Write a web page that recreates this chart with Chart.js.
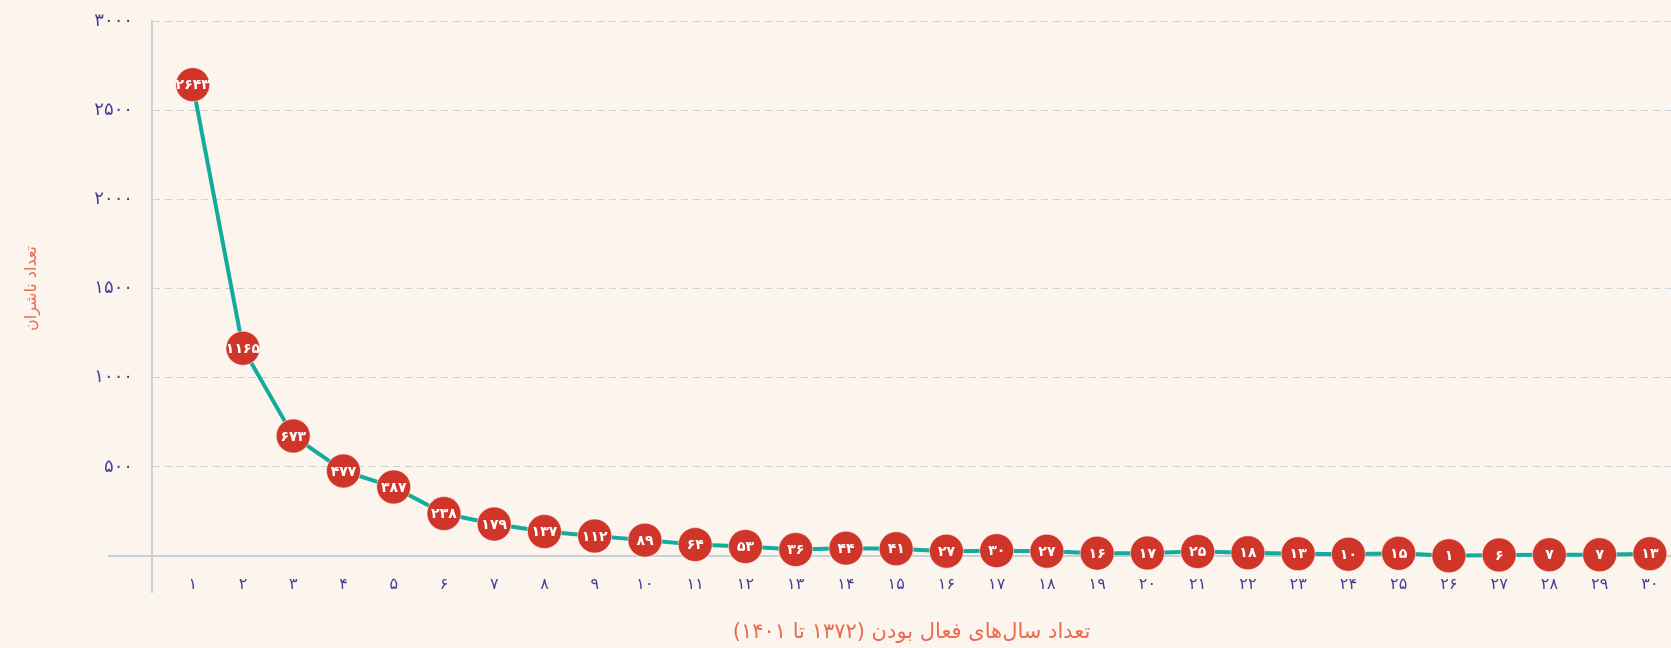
<!DOCTYPE html>
<html lang="fa">
<head>
<meta charset="utf-8">
<title>تعداد ناشران بر حسب سال‌های فعالیت</title>
<script src="https://cdn.jsdelivr.net/npm/chart.js@4"></script>
<style>
  html, body { margin: 0; padding: 0; background: #fcf5ee; }
  #wrap { width: 1671px; height: 648px; position: relative; }
</style>
</head>
<body>
<div id="wrap"><canvas id="chart" dir="rtl"></canvas></div>
<script>
// Number of years active (1372 to 1401) and the number of publishers for each
const years = [1, 2, 3, 4, 5, 6, 7, 8, 9, 10, 11, 12, 13, 14, 15, 16, 17, 18, 19, 20, 21, 22, 23, 24, 25, 26, 27, 28, 29, 30];
const publishers = [2643, 1165, 673, 477, 387, 238, 179, 137, 112, 89, 64, 53, 36, 44, 41, 27, 30, 27, 16, 17, 25, 18, 13, 10, 15, 1, 6, 7, 7, 13];
const xTickLabels = ['۱', '۲', '۳', '۴', '۵', '۶', '۷', '۸', '۹', '۱۰', '۱۱', '۱۲', '۱۳', '۱۴', '۱۵', '۱۶', '۱۷', '۱۸', '۱۹', '۲۰', '۲۱', '۲۲', '۲۳', '۲۴', '۲۵', '۲۶', '۲۷', '۲۸', '۲۹', '۳۰'];
const yTickValues = [0, 500, 1000, 1500, 2000, 2500, 3000];
const yTickLabels = ['', '۵۰۰', '۱۰۰۰', '۱۵۰۰', '۲۰۰۰', '۲۵۰۰', '۳۰۰۰'];

const xTitle = 'تعداد سال‌های فعال بودن (۱۳۷۲ تا ۱۴۰۱)';
const yTitle = 'تعداد ناشران';

const FONT = "'DejaVu Sans', sans-serif";
const AXIS_COLOR = '#c7d1d8';
const TICK_COLOR = '#4a3c96';
const TITLE_COLOR = '#ec6a4f';

const faDigits = ['۰', '۱', '۲', '۳', '۴', '۵', '۶', '۷', '۸', '۹'];
function toPersian(n) {
  return String(n).replace(/[0-9]/g, d => faDigits[+d]);
}

// Writes each value in white inside its marker
const valueLabels = {
  id: 'valueLabels',
  afterDatasetsDraw(chart) {
    const { ctx } = chart;
    const meta = chart.getDatasetMeta(0);
    const values = chart.data.datasets[0].data;
    ctx.save();
    ctx.fillStyle = '#ffffff';
    ctx.font = 'bold 14px ' + FONT;
    ctx.textAlign = 'center';
    ctx.textBaseline = 'middle';
    meta.data.forEach((el, i) => {
      ctx.fillText(toPersian(values[i].y), el.x, el.y + 1);
    });
    ctx.restore();
  }
};

// Short extensions of the axis lines past the corner of the plot
const axisCorner = {
  id: 'axisCorner',
  beforeDatasetsDraw(chart) {
    const { ctx, chartArea } = chart;
    ctx.save();
    ctx.strokeStyle = AXIS_COLOR;
    ctx.lineWidth = 2;
    ctx.beginPath();
    ctx.moveTo(chartArea.left - 44, chartArea.bottom);
    ctx.lineTo(chartArea.left, chartArea.bottom);
    ctx.moveTo(chartArea.left, chartArea.bottom);
    ctx.lineTo(chartArea.left, chartArea.bottom + 37);
    ctx.stroke();
    ctx.restore();
  }
};

Chart.defaults.font.family = FONT;

new Chart(document.getElementById('chart'), {
  type: 'line',
  data: {
    datasets: [{
      data: years.map((y, i) => ({ x: y, y: publishers[i] })),
      borderColor: '#13ab9b',
      borderWidth: 4,
      tension: 0,
      pointRadius: 17,
      pointHoverRadius: 17,
      pointBackgroundColor: '#cf3529',
      pointBorderColor: 'rgba(255,255,255,0.55)',
      pointBorderWidth: 1,
      clip: false
    }]
  },
  options: {
    responsive: true,
    maintainAspectRatio: false,
    devicePixelRatio: 1,
    animation: false,
    layout: { autoPadding: false, padding: { top: 21, right: 0, bottom: 0, left: 0 } },
    plugins: {
      legend: { display: false },
      tooltip: { enabled: false }
    },
    scales: {
      x: {
        type: 'linear',
        min: 0.19,
        max: 30.42,
        afterBuildTicks(scale) {
          scale.ticks = years.map(v => ({ value: v }));
        },
        afterFit(scale) {
          scale.height = 92;
          scale.paddingLeft = 0;
          scale.paddingRight = 0;
        },
        grid: { display: false, drawTicks: false },
        border: { display: true, color: AXIS_COLOR, width: 2 },
        ticks: {
          autoSkip: false,
          maxRotation: 0,
          padding: 19,
          color: TICK_COLOR,
          font: { size: 16 },
          callback: (value) => xTickLabels[years.indexOf(value)]
        },
        title: {
          display: true,
          text: xTitle,
          color: TITLE_COLOR,
          font: { size: 21 },
          padding: { top: 0, bottom: 3 }
        }
      },
      y: {
        min: 0,
        max: 3000,
        afterBuildTicks(scale) {
          scale.ticks = yTickValues.map(v => ({ value: v }));
        },
        afterFit(scale) {
          scale.width = 152;
          scale.paddingTop = 0;
          scale.paddingBottom = 0;
        },
        grid: {
          drawTicks: false,
          lineWidth: 1,
          color: (c) => (c.tick && c.tick.value === 0) ? 'rgba(0,0,0,0)' : AXIS_COLOR
        },
        border: {
          display: true,
          color: AXIS_COLOR,
          width: 2,
          dash: (c) => (c.tick ? [7, 5] : [])
        },
        ticks: {
          padding: 19,
          color: TICK_COLOR,
          font: { size: 18 },
          callback: (value) => yTickLabels[yTickValues.indexOf(value)]
        },
        title: {
          display: true,
          text: yTitle,
          color: TITLE_COLOR,
          font: { size: 16 },
          padding: { top: 22, bottom: 0 }
        }
      }
    }
  },
  plugins: [axisCorner, valueLabels]
});
</script>
</body>
</html>
